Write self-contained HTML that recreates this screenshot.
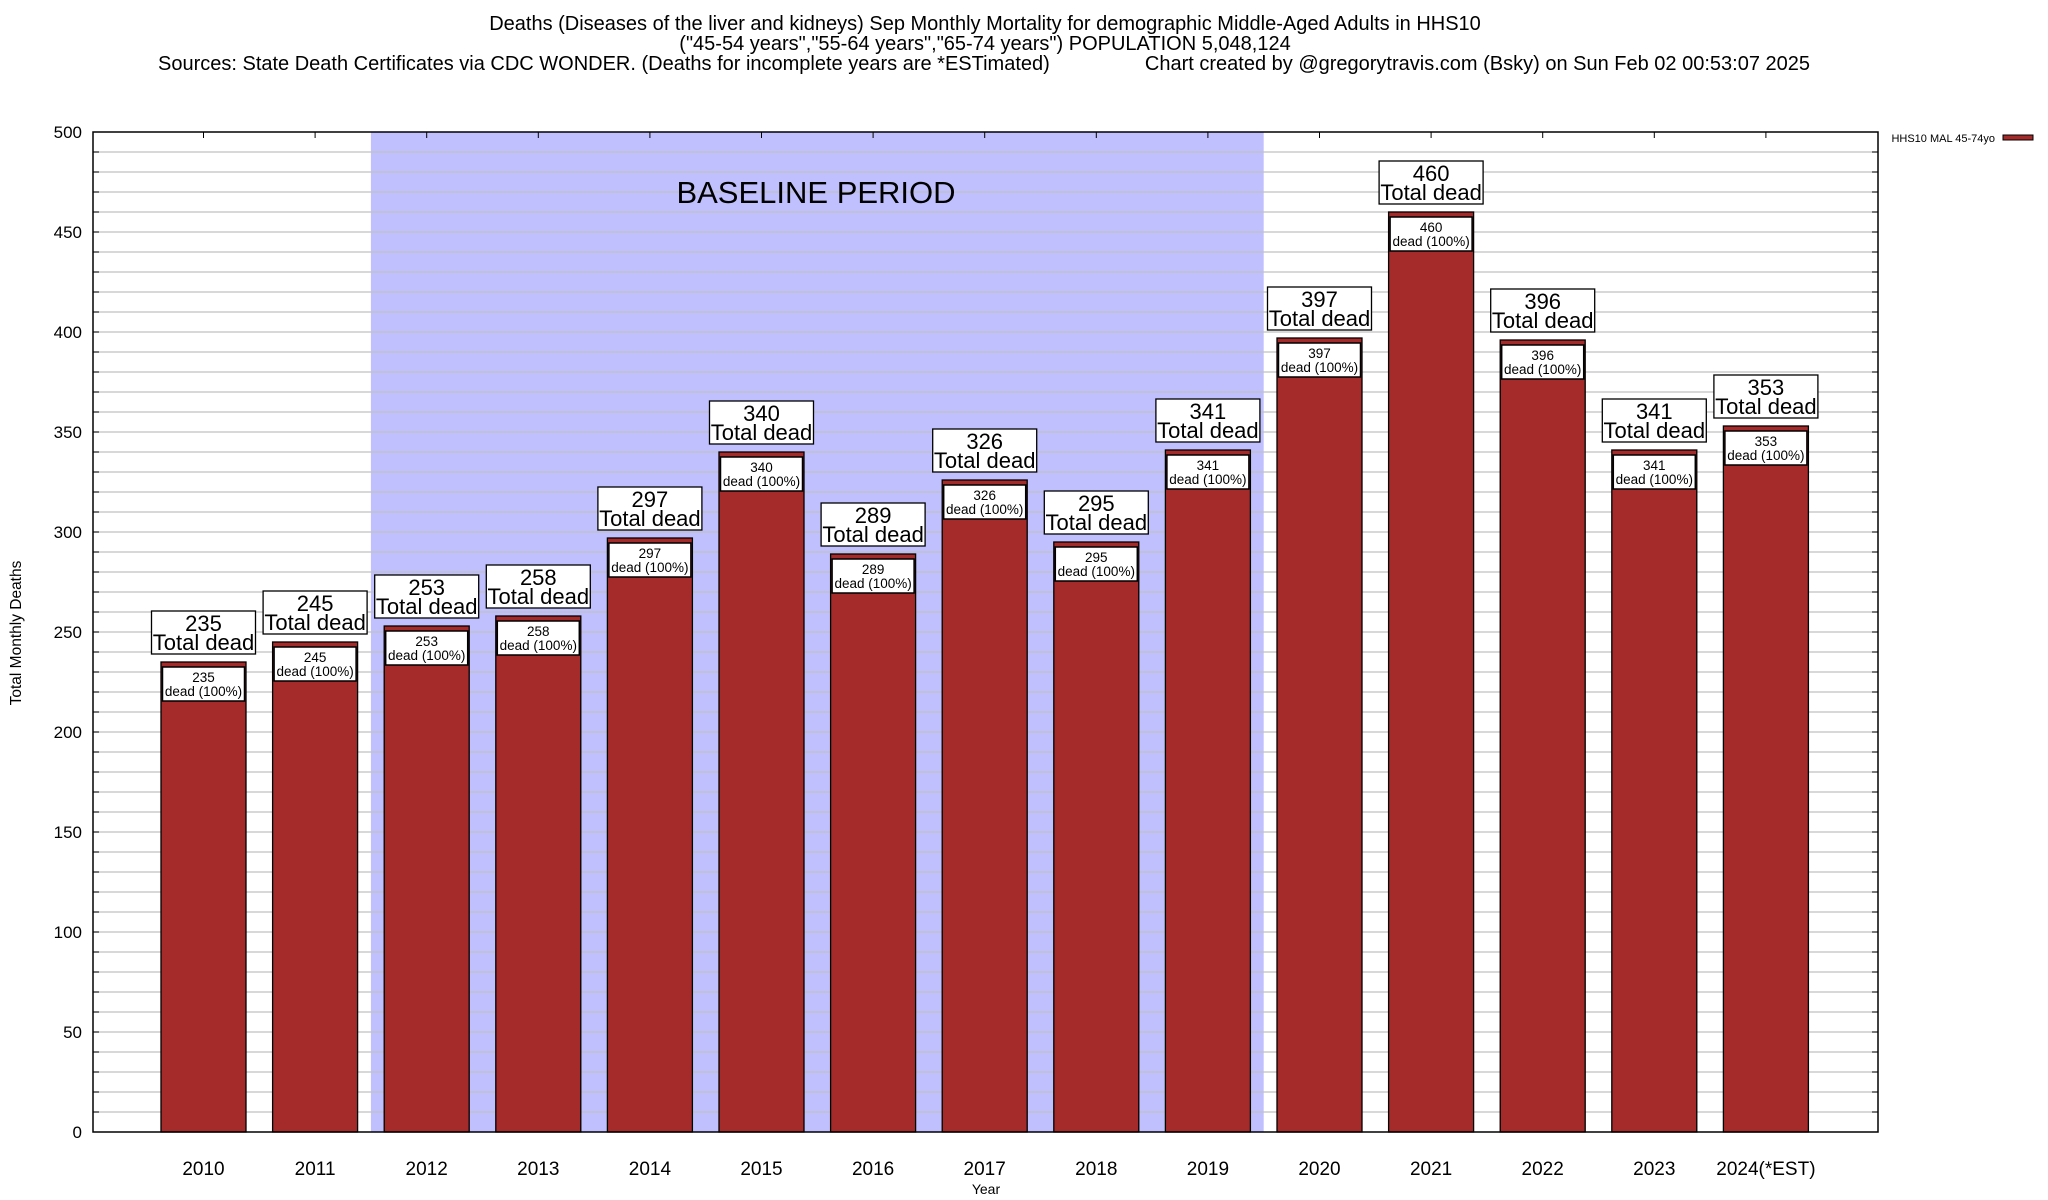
<!DOCTYPE html>
<html><head><meta charset="utf-8"><style>
html,body{margin:0;padding:0;background:#fff;}
svg{display:block;font-family:"Liberation Sans",Arial,sans-serif;}
</style></head><body>
<svg id="chart" width="2048" height="1200" viewBox="0 0 2048 1200" xmlns="http://www.w3.org/2000/svg">
<g id="titles" font-size="20" fill="#000">
<text x="985" y="30" text-anchor="middle">Deaths (Diseases of the liver and kidneys) Sep Monthly Mortality for demographic Middle-Aged Adults in HHS10</text>
<text x="985" y="50" text-anchor="middle">("45-54 years","55-64 years","65-74 years") POPULATION 5,048,124</text>
<text x="158" y="70">Sources: State Death Certificates via CDC WONDER. (Deaths for incomplete years are *ESTimated)</text>
<text x="1810" y="70" text-anchor="end">Chart created by @gregorytravis.com (Bsky) on Sun Feb 02 00:53:07 2025</text>
</g>
<g id="plot"></g>
<text x="986" y="1194" text-anchor="middle" font-size="14">Year</text>
<text transform="translate(21,633) rotate(-90)" text-anchor="middle" font-size="15.5">Total Monthly Deaths</text>
<g>
<text x="1995" y="142" text-anchor="end" font-size="11">HHS10 MAL 45-74yo</text>
<rect x="2003" y="135" width="30" height="5" fill="#a52a2a" stroke="#000" stroke-width="1"/>
</g>
</svg>
<script>
const categories = ["2010","2011","2012","2013","2014","2015","2016","2017","2018","2019","2020","2021","2022","2023","2024(*EST)"];
const values = [235,245,253,258,297,340,289,326,295,341,397,460,396,341,353];
const yTicks = [0,50,100,150,200,250,300,350,400,450,500];
const baselineStart = 2;
const baselineEnd = 9;

const NS = "http://www.w3.org/2000/svg";
const plot = document.getElementById('plot');
const L = 93, R = 1878, T = 132, B = 1132;
const yMax = 500;
function yScale(v){ return B - (v / yMax) * (B - T); }
function xScale(i){ return 203.5 + i * 111.6; }
const barW = 85;
function mk(tag, attrs, parent){
  const e = document.createElementNS(NS, tag);
  for (const k in attrs) e.setAttribute(k, attrs[k]);
  (parent || plot).appendChild(e);
  return e;
}
const bx0 = (xScale(baselineStart - 1) + xScale(baselineStart)) / 2;
const bx1 = (xScale(baselineEnd) + xScale(baselineEnd + 1)) / 2;
const shade = mk('rect', {x: bx0, y: T, width: bx1 - bx0, height: B - T, fill: '#c0c0ff'});


for (let v = 10; v < yMax; v += 10) {
  const g = mk('line', {x1: L, x2: R, y1: yScale(v), y2: yScale(v), stroke: '#c0c0c0', 'stroke-width': 1.3});
  
  
  const t1 = mk('line', {x1: L, x2: L + 6, y1: yScale(v), y2: yScale(v), stroke: '#000', 'stroke-width': 1});
  
  
  const t2 = mk('line', {x1: R - 6, x2: R, y1: yScale(v), y2: yScale(v), stroke: '#000', 'stroke-width': 1});
  
  
}
const bp = mk('text', {x: 816, y: 203, 'text-anchor': 'middle', 'font-size': 31});
bp.textContent = 'BASELINE PERIOD';


yTicks.forEach(v => {
  const t = mk('text', {x: 82, y: yScale(v) + 6, 'text-anchor': 'end', 'font-size': 17});
  t.textContent = v;
  
  
});
categories.forEach((c, i) => {
  const cx = xScale(i), v = values[i], top = yScale(v);
  const bar = mk('rect', {x: cx - barW / 2, y: top, width: barW, height: B - top, fill: '#a52a2a', stroke: '#000', 'stroke-width': 1.3});
  
  
  const ib = mk('rect', {x: cx - 41, y: top + 5, width: 82, height: 34, fill: '#fff', stroke: '#000', 'stroke-width': 1.5});
  
  
  const it1 = mk('text', {x: cx, y: top + 20, 'text-anchor': 'middle', 'font-size': 13.5});
  it1.textContent = v;
  
  
  const it2 = mk('text', {x: cx, y: top + 34, 'text-anchor': 'middle', 'font-size': 13.5});
  it2.textContent = 'dead (100%)';
  
  
  const ob = mk('rect', {x: cx - 52, y: top - 51, width: 104, height: 43, fill: '#fff', stroke: '#000', 'stroke-width': 1.3});
  
  
  const ot1 = mk('text', {x: cx, y: top - 31, 'text-anchor': 'middle', 'font-size': 22});
  ot1.textContent = v;
  
  
  const ot2 = mk('text', {x: cx, y: top - 12, 'text-anchor': 'middle', 'font-size': 22});
  ot2.textContent = 'Total dead';
  
  
  const xl = mk('text', {x: cx, y: 1175, 'text-anchor': 'middle', 'font-size': 19});
  xl.textContent = c;
  
  
  const tt = mk('line', {x1: cx, x2: cx, y1: T, y2: T + 6, stroke: '#000', 'stroke-width': 1});
  
  
});
const frame = mk('rect', {x: L, y: T, width: R - L, height: B - T, fill: 'none', stroke: '#000', 'stroke-width': 1.5});


</script>
</body></html>
